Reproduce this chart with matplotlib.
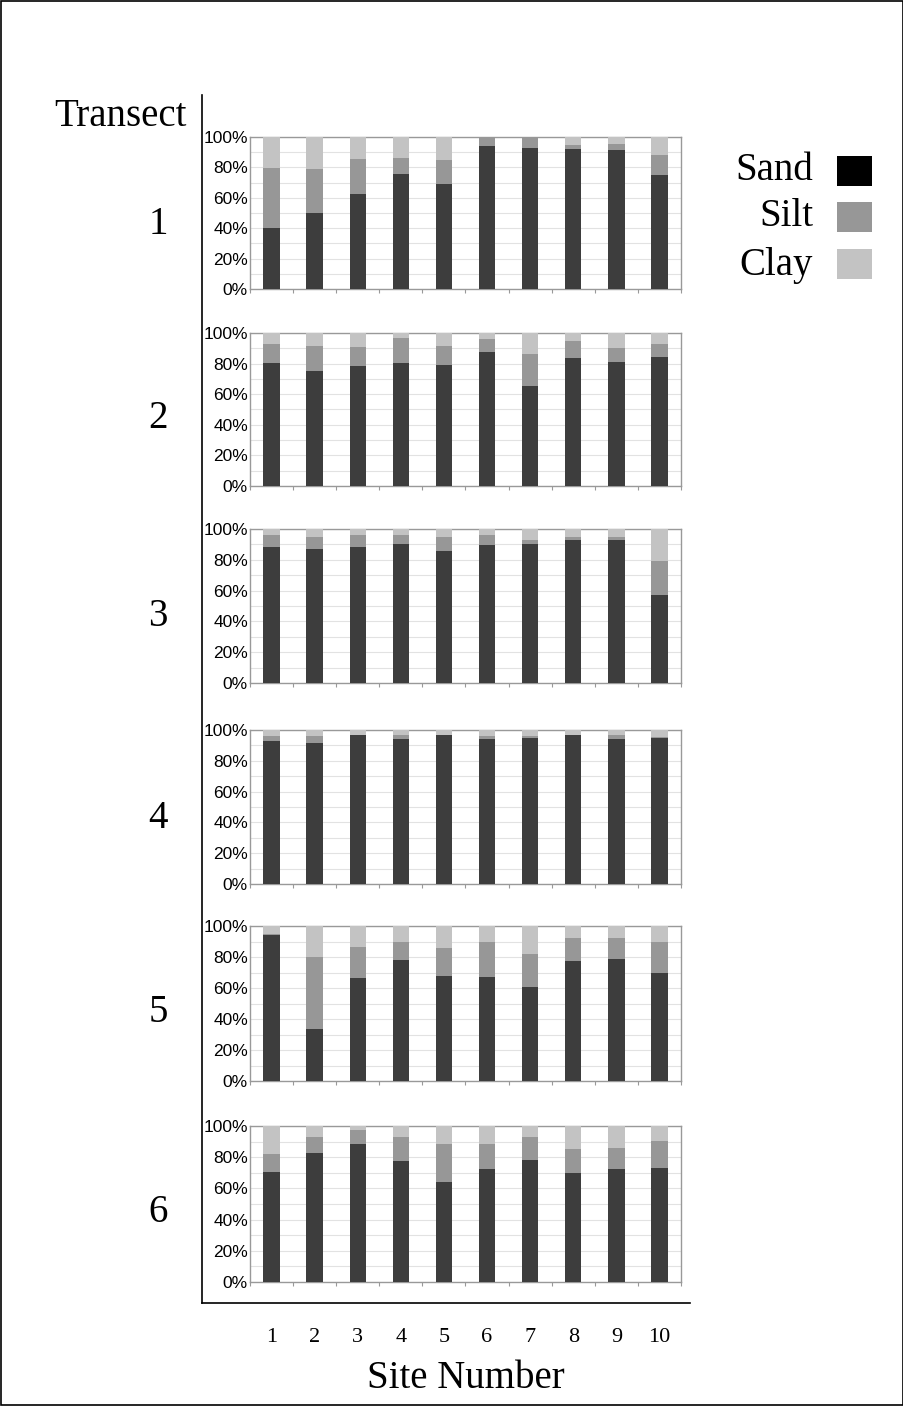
import matplotlib
matplotlib.use("Agg")
import matplotlib.pyplot as plt
from matplotlib.lines import Line2D
from matplotlib.patches import Rectangle
from matplotlib.transforms import blended_transform_factory
import numpy as np

sites = [1, 2, 3, 4, 5, 6, 7, 8, 9, 10]
transects = ["1", "2", "3", "4", "5", "6"]
components = ["Sand", "Silt", "Clay"]

# Sand percentage per site, per transect
sand_t1 = [40, 50, 62.7, 75.4, 69, 94, 92.8, 92, 91.4, 75]
sand_t2 = [80.4, 75.4, 78.7, 80.4, 79, 87.4, 65.4, 83.7, 81.3, 84]
sand_t3 = [88, 86.7, 88, 90, 86, 89.6, 90, 93, 93, 57.2]
sand_t4 = [93, 91.8, 96.8, 94, 96.5, 94, 95, 96.8, 94, 95]
sand_t5 = [94, 33.3, 66.7, 78.3, 68, 67.3, 60.4, 77.2, 79, 70]
sand_t6 = [70.7, 82.7, 88.7, 77.6, 64.1, 72.6, 78.2, 70, 72.6, 73.3]

# Silt percentage per site, per transect
silt_t1 = [39.4, 29, 23, 10.8, 16, 6, 7.2, 2.5, 3.8, 13]
silt_t2 = [12.6, 16.1, 12.3, 16.1, 12.5, 8.6, 20.6, 11.3, 8.7, 9]
silt_t3 = [8, 8.3, 8, 6, 9, 6.4, 3, 2, 2, 21.8]
silt_t4 = [3, 4.2, 0.2, 2.8, 0.3, 2.3, 1, 0.2, 2.5, 0.7]
silt_t5 = [1, 46.9, 19.8, 11.7, 18, 22.4, 21.6, 14.8, 13, 19.5]
silt_t6 = [11.1, 10.5, 8.7, 15.6, 24.6, 16.1, 15, 15.3, 13.1, 17.3]

# Clay = remainder to 100%
clay_t1 = [20.6, 21, 14.3, 13.8, 15, 0, 0, 5.5, 4.8, 12]
clay_t2 = [7, 8.5, 9, 3.5, 8.5, 4, 14, 5, 10, 7]
clay_t3 = [4, 5, 4, 4, 5, 4, 7, 5, 5, 21]
clay_t4 = [4, 4, 3, 3.2, 3.2, 3.7, 4, 3, 3.5, 4.3]
clay_t5 = [5, 19.8, 13.5, 10, 14, 10.3, 18, 8, 8, 10.5]
clay_t6 = [18.2, 6.8, 2.6, 6.8, 11.3, 11.3, 6.8, 14.7, 14.3, 9.4]

sand = [sand_t1, sand_t2, sand_t3, sand_t4, sand_t5, sand_t6]
silt = [silt_t1, silt_t2, silt_t3, silt_t4, silt_t5, silt_t6]
clay = [clay_t1, clay_t2, clay_t3, clay_t4, clay_t5, clay_t6]

bar_colors = {"Sand": "#3d3d3d", "Silt": "#979797", "Clay": "#c3c3c3"}
legend_colors = {"Sand": "#000000", "Silt": "#979797", "Clay": "#c3c3c3"}

W, H = 904, 1406
fig = plt.figure(figsize=(W / 100, H / 100), dpi=100)
fig.patch.set_facecolor("white")

serif = ["Liberation Serif", "DejaVu Serif"]
sans = ["Liberation Sans", "DejaVu Sans"]

def fx(px):
    return px / W

def fy(py):
    return 1 - py / H

# panel pixel extents (top, bottom)
panels = [(137, 289), (333, 486), (529, 683), (730, 884), (926, 1081), (1126, 1282)]
left_px, right_px = 250, 681
label_y = [225, 418, 617, 818, 1012, 1213]

axes = []
for i, (top, bot) in enumerate(panels):
    ax = fig.add_axes([fx(left_px), fy(bot), fx(right_px - left_px), (bot - top) / H])
    x = np.array(sites)
    s = np.array(sand[i]); si = np.array(silt[i]); c = np.array(clay[i])
    bw = 0.38
    ax.bar(x, s, width=bw, color=bar_colors["Sand"], zorder=3)
    ax.bar(x, si, bottom=s, width=bw, color=bar_colors["Silt"], zorder=3)
    ax.bar(x, c, bottom=s + si, width=bw, color=bar_colors["Clay"], zorder=3)
    ax.set_xlim(0.5, 10.5)
    ax.set_ylim(0, 100)
    ax.set_yticks(np.arange(0, 101, 20))
    ax.set_yticklabels([f"{v}%" for v in range(0, 101, 20)], fontsize=12.5, family=sans)
    ax.set_yticks(np.arange(0, 101, 10), minor=True)
    ax.grid(axis="y", which="both", color="#e2e2e2", linewidth=0.8, zorder=0)
    ax.set_xticks(np.arange(0.5, 11, 1))
    ax.set_xticklabels([])
    ax.tick_params(axis="x", length=3, color="#999999", width=0.8)
    ax.tick_params(axis="y", which="both", length=0, pad=1.5)
    for sp in ax.spines.values():
        sp.set_color("#999999")
        sp.set_linewidth(1.0)
    axes.append(ax)
    fig.text(fx(158), fy(label_y[i]), transects[i], fontsize=28, family=serif,
             ha="center", va="center")

# site number labels under last panel
ax6 = axes[-1]
tr = blended_transform_factory(ax6.transData, fig.transFigure)
for s_ in sites:
    ax6.text(s_, fy(1338), str(s_), transform=tr, ha="center", va="center",
             fontsize=16, family=serif, clip_on=False)

fig.text(fx(466), fy(1378), "Site Number", fontsize=28, family=serif, ha="center", va="center")
fig.text(fx(120), fy(116), "Transect", fontsize=28, family=serif, ha="center", va="center")

# outer L-shaped lines
fig.add_artist(Line2D([fx(202), fx(202)], [fy(95), fy(1303)], color="black", linewidth=1.2,
                      transform=fig.transFigure))
fig.add_artist(Line2D([fx(202), fx(690)], [fy(1303), fy(1303)], color="black", linewidth=1.2,
                      transform=fig.transFigure))

# figure frame
fig.add_artist(Rectangle((0.0008, 0.0005), 0.998, 0.999, fill=False, edgecolor="black",
                         linewidth=1.2, transform=fig.transFigure))

# legend
leg_text_y = [170, 217, 265]
leg_box = [(156, 186), (202, 232), (249, 279)]
for name, ty, (bt, bb) in zip(components, leg_text_y, leg_box):
    fig.text(fx(813), fy(ty), name, fontsize=28, family=serif, ha="right", va="center")
    fig.add_artist(Rectangle((fx(837), fy(bb)), fx(872 - 837), (bb - bt) / H,
                             facecolor=legend_colors[name], edgecolor="none",
                             transform=fig.transFigure))

fig.savefig("out.png", dpi=100, facecolor="white")
